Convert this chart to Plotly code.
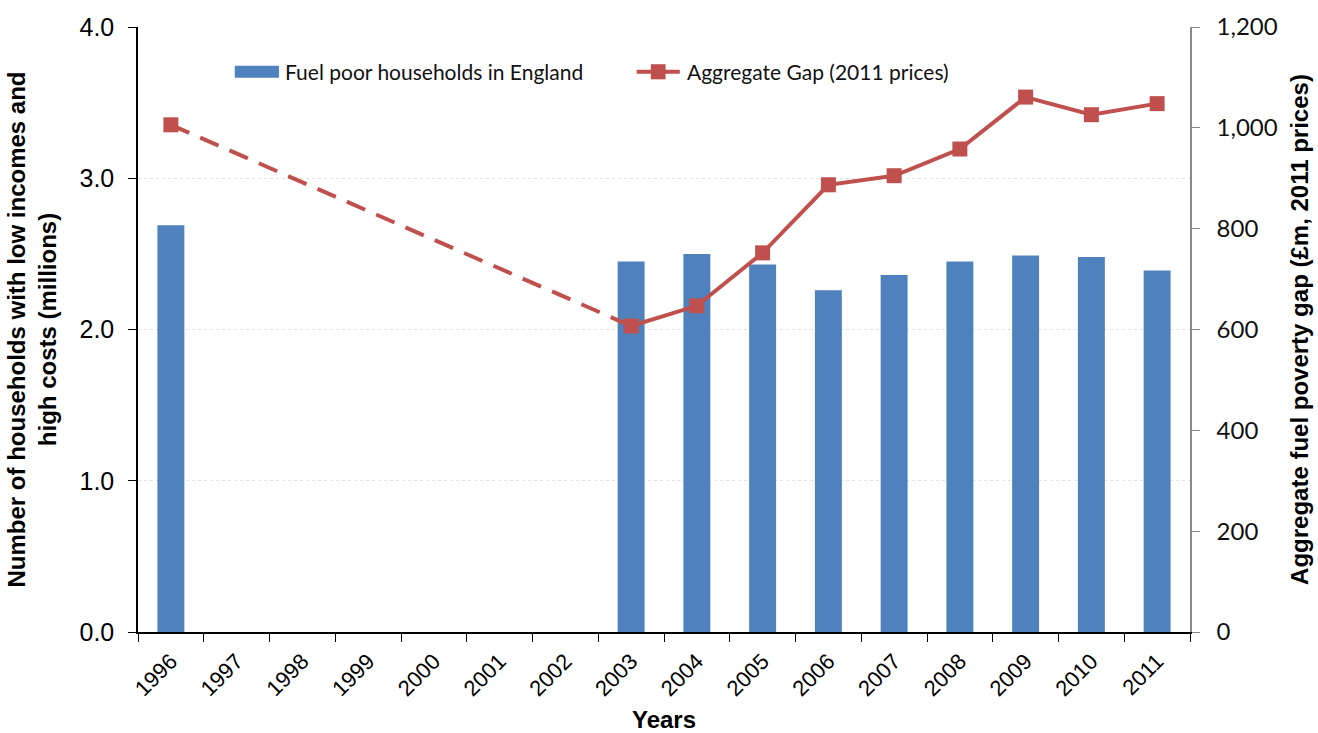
import plotly.graph_objects as go

years = [str(y) for y in range(1996, 2012)]
# Fuel poor households (millions); no survey data for 1997-2002
households = [2.69, None, None, None, None, None, None, 2.45, 2.50, 2.43, 2.26, 2.36, 2.45, 2.49, 2.48, 2.39]
# Aggregate fuel poverty gap (£m, 2011 prices)
gap = [1006, None, None, None, None, None, None, 607, 647, 752, 887, 905, 958, 1061, 1026, 1048]

bar_name = "Fuel poor households in England"
line_name = "Aggregate Gap (2011 prices)"

BLUE = "#4F81BD"
RED = "#C0504D"
LEGEND_FONT = dict(family="Lato, sans-serif", size=21, color="#111")

fig = go.Figure()

fig.add_trace(go.Bar(
    x=years, y=households, name=bar_name,
    marker=dict(color=BLUE, line=dict(width=0)),
    yaxis="y", showlegend=False,
))

# Dashed connector across the years with no data
first = 0
resume = next(i for i in range(1, len(gap)) if gap[i] is not None)
fig.add_trace(go.Scatter(
    x=[years[first], years[resume]], y=[gap[first], gap[resume]],
    mode="lines", line=dict(color=RED, width=4, dash="20px,12px"),
    showlegend=False, hoverinfo="skip", yaxis="y2",
))

fig.add_trace(go.Scatter(
    x=years, y=gap, name=line_name,
    mode="lines+markers", connectgaps=False,
    line=dict(color=RED, width=4),
    marker=dict(symbol="square", size=15, color=RED),
    yaxis="y2", showlegend=False,
))

# Legend drawn in paper coordinates (wide swatches)
ly = 0.926
shapes = [
    dict(type="rect", xref="paper", yref="paper",
         x0=0.092, x1=0.134, y0=ly - 0.010, y1=ly + 0.010,
         fillcolor=BLUE, line=dict(width=0)),
    dict(type="line", xref="paper", yref="paper",
         x0=0.474, x1=0.515, y0=ly, y1=ly,
         line=dict(color=RED, width=4)),
    dict(type="rect", xref="paper", yref="paper",
         x0=0.4875, x1=0.5015, y0=ly - 0.0125, y1=ly + 0.0125,
         fillcolor=RED, line=dict(width=0)),
]
annotations = [
    dict(text=bar_name, xref="paper", yref="paper", x=0.138, y=ly,
         xanchor="left", yanchor="middle", showarrow=False, font=LEGEND_FONT),
    dict(text=line_name, xref="paper", yref="paper", x=0.520, y=ly,
         xanchor="left", yanchor="middle", showarrow=False, font=LEGEND_FONT),
]

fig.update_layout(
    width=1318, height=733,
    margin=dict(l=138, r=128, t=27, b=101),
    paper_bgcolor="white", plot_bgcolor="white",
    font=dict(family="Liberation Sans, Arial, sans-serif", color="#000"),
    bargap=0.59,
    showlegend=False,
    shapes=shapes,
    annotations=annotations,
    xaxis=dict(
        type="category", categoryorder="array", categoryarray=years,
        range=[-0.5, len(years) - 0.5], automargin=False,
        tickson="boundaries", ticks="outside", ticklen=8, tickcolor="#000",
        showline=True, linecolor="#000", linewidth=1.5,
        tickangle=-45, tickfont=dict(size=22), ticklabelstandoff=6,
        title=dict(text="<b>Years</b>", font=dict(size=24), standoff=12),
        showgrid=False, zeroline=False,
    ),
    yaxis=dict(
        range=[0, 4], dtick=1, tickformat=".1f", automargin=False,
        ticks="outside", ticklen=8, tickcolor="#000",
        showline=True, linecolor="#000", linewidth=1.5,
        tickfont=dict(size=25), ticklabelstandoff=9,
        showgrid=True, gridcolor="#e2e2e2", griddash="dot", gridwidth=1,
        zeroline=False,
        title=dict(text="<b>Number of households with low incomes and<br>high costs (millions)</b>",
                   font=dict(size=24), standoff=16),
    ),
    yaxis2=dict(
        range=[0, 1200], dtick=200, tickformat=",", automargin=False,
        overlaying="y", side="right",
        ticks="outside", ticklen=8, tickcolor="#888",
        showline=True, linecolor="#888", linewidth=1.5,
        tickfont=dict(family="Lato, sans-serif", size=24, color="#111"),
        ticklabelstandoff=12,
        showgrid=False, zeroline=False,
        title=dict(text="<b>Aggregate fuel poverty gap (£m, 2011 prices)</b>",
                   font=dict(size=24), standoff=14),
    ),
)

fig.write_html("out.html")
